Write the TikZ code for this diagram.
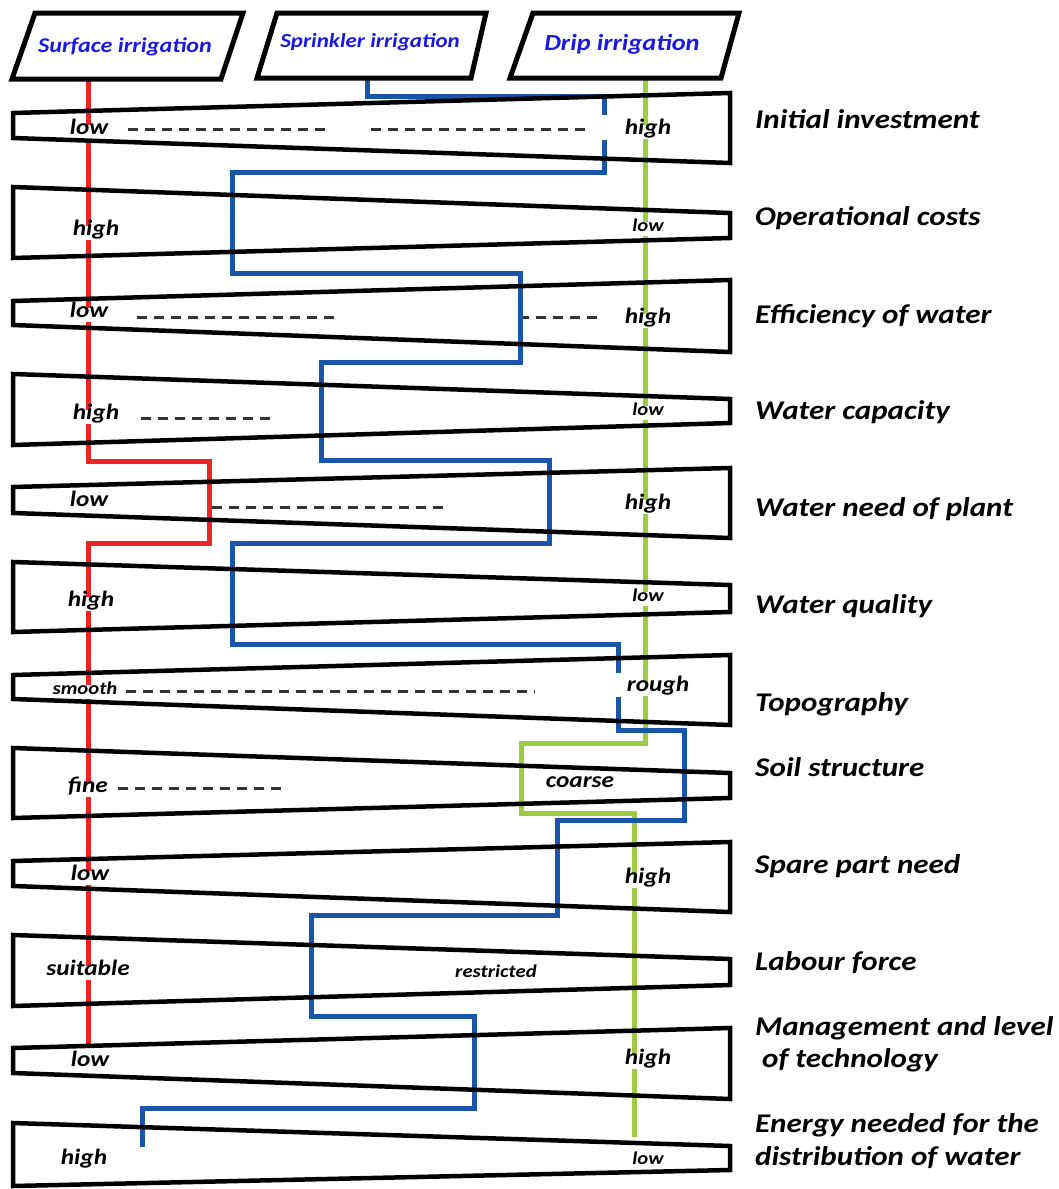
\documentclass[tikz,border=0pt]{standalone}
\usepackage{fontspec}
\setmainfont{Carlito}[FakeStretch=1.15]
\definecolor{rdl}{HTML}{EE2424}
\definecolor{bll}{HTML}{1A56A8}
\definecolor{grl}{HTML}{9DCB43}
\definecolor{hdt}{HTML}{1A1ADC}
\newcommand\myfs[1]{\fontsize{#1}{#1}\selectfont\bfseries\itshape}
\begin{document}
\begin{tikzpicture}[x=1pt,y=-1pt,
  trap/.style={line width=4.5pt, line join=miter, draw=black},
  hdbox/.style={line width=5pt, line join=miter, draw=black},
  hdtext/.style={text=hdt, inner sep=0pt},
  redl/.style={draw=rdl, line width=5pt},
  blul/.style={draw=bll, line width=5pt},
  grnl/.style={draw=grl, line width=5pt},
  dsh/.style={draw=black!80, line width=3pt, dash pattern=on 10pt off 7pt},
  lab/.style={fill=white, inner xsep=2pt, inner ysep=2pt, text height=0.75em, text depth=0.25em, font=\myfs{22}, yshift=-5pt},
  labs/.style={lab, font=\myfs{18}},
  rlab/.style={anchor=west, inner sep=0pt, text height=0.7em, text depth=0.2em, font=\myfs{27}, yshift=-5pt},
]
\useasboundingbox (0,0) rectangle (1058,1189);

% dashed guide lines
\draw[dsh] (128,129) -- (330,129);
\draw[dsh] (371,129) -- (592,129);
\draw[dsh] (137,317) -- (339,317);
\draw[dsh] (519,317) -- (600,317);
\draw[dsh] (141,418) -- (276,418);
\draw[dsh] (212,507) -- (448,507);
\draw[dsh] (126,691) -- (535,691);
\draw[dsh] (118,788) -- (285,788);

% connectors start points
\coordinate (rs) at (88,79);
\coordinate (bs) at (367,78);
\coordinate (gs) at (645,78);

% red: surface irrigation
\draw[redl] (rs) -- (88,461) -- (209,461) -- (209,543) -- (88,543) -- (88,1046);
% green: drip irrigation
\draw[grnl] (gs) -- (645,743) -- (521,743) -- (521,813) -- (634,813) -- (634,1137);
% blue: sprinkler irrigation
\draw[blul] (bs) -- (367,96) -- (604,96) -- (604,115);
\draw[blul] (604,140) -- (604,172) -- (232,172) -- (232,273) -- (520,273) -- (520,362)
  -- (321,362) -- (321,460) -- (549,460) -- (549,543) -- (232,543) -- (232,644)
  -- (618,644) -- (618,673);
\draw[blul] (618,697) -- (618,730) -- (684,730) -- (684,820) -- (557,820) -- (557,915)
  -- (311,915) -- (311,1016) -- (474,1016) -- (474,1108) -- (142,1108) -- (142,1147);

% row labels
\node[lab] (l1a) at (89,127) {low};
\node[lab] (l1b) at (648,127) {high};
\node[lab] (l2a) at (96,228) {high};
\node[labs] (l2b) at (648,224) {low};
\node[lab] (l3a) at (89,310) {low};
\node[lab] (l3b) at (648,316) {high};
\node[lab] (l4a) at (96,412) {high};
\node[labs] (l4b) at (648,408) {low};
\node[lab] (l5a) at (89,499) {low};
\node[lab] (l5b) at (648,502) {high};
\node[lab] (l6a) at (91,599) {high};
\node[labs] (l6b) at (648,594) {low};
\node[labs] (l7a) at (85,687) {smooth};
\node[lab] (l7b) at (658,684) {rough};
\node[lab] (l8a) at (88,785) {fine};
\node[lab] (l8b) at (580,780) {coarse};
\node[lab] (l9a) at (90,873) {low};
\node[lab] (l9b) at (648,876) {high};
\node[lab] (l10a) at (88,968) {suitable};
\node[labs] (l10b) at (496,970) {restricted};
\node[lab] (l11a) at (90,1059) {low};
\node[lab] (l11b) at (648,1057) {high};
\node[lab] (l12a) at (84,1157) {high};
\node[labs] (l12b) at (648,1157) {low};

% trapezoids
\draw[trap] (13,113) -- (730,93) -- (730,163) -- (13,138) -- cycle;
\draw[trap] (13,187) -- (730,213) -- (730,238) -- (13,258) -- cycle;
\draw[trap] (13,301) -- (730,280) -- (730,352) -- (13,325) -- cycle;
\draw[trap] (13,374) -- (730,399) -- (730,423) -- (13,445) -- cycle;
\draw[trap] (13,487) -- (730,468) -- (730,538) -- (13,513) -- cycle;
\draw[trap] (13,562) -- (730,585) -- (730,612) -- (13,632) -- cycle;
\draw[trap] (13,675) -- (730,655) -- (730,725) -- (13,699) -- cycle;
\draw[trap] (13,748) -- (730,773) -- (730,798) -- (13,818) -- cycle;
\draw[trap] (13,861) -- (730,842) -- (730,912) -- (13,886) -- cycle;
\draw[trap] (13,935) -- (730,959) -- (730,985) -- (13,1006) -- cycle;
\draw[trap] (13,1048) -- (730,1028) -- (730,1099) -- (13,1073) -- cycle;
\draw[trap] (13,1123) -- (730,1146) -- (730,1170) -- (13,1186) -- cycle;

% headers
\draw[hdbox] (35,13) -- (243,13) -- (221,79) -- (12,79) -- cycle;
\draw[hdbox] (277,13) -- (486,13) -- (471,78) -- (257,78) -- cycle;
\draw[hdbox] (533,13) -- (739,13) -- (721,78) -- (510,78) -- cycle;
\node[hdtext, font=\myfs{21}] (surf) at (125,47) {Surface irrigation};
\node[hdtext, font=\myfs{20}] (spri) at (370,42) {Sprinkler irrigation};
\node[hdtext, font=\myfs{23}] (drip) at (622,44) {Drip irrigation};

% criteria
\node[rlab] (c1) at (755,121) {Initial investment};
\node[rlab] (c2) at (755,218) {Operational costs};
\node[rlab] (c3) at (755,316) {Efficiency of water};
\node[rlab] (c4) at (755,412) {Water capacity};
\node[rlab] (c5) at (755,509) {Water need of plant};
\node[rlab] (c6) at (755,606) {Water quality};
\node[rlab] (c7) at (755,704) {Topography};
\node[rlab] (c8) at (755,769) {Soil structure};
\node[rlab] (c9) at (755,866) {Spare part need};
\node[rlab] (c10) at (755,963) {Labour force};
\node[rlab] (c11) at (755,1028) {Management and level};
\node[rlab] (c11b) at (762,1060) {of technology};
\node[rlab] (c12) at (755,1125) {Energy needed for the};
\node[rlab] (c12b) at (755,1158) {distribution of water};
\end{tikzpicture}
\end{document}
